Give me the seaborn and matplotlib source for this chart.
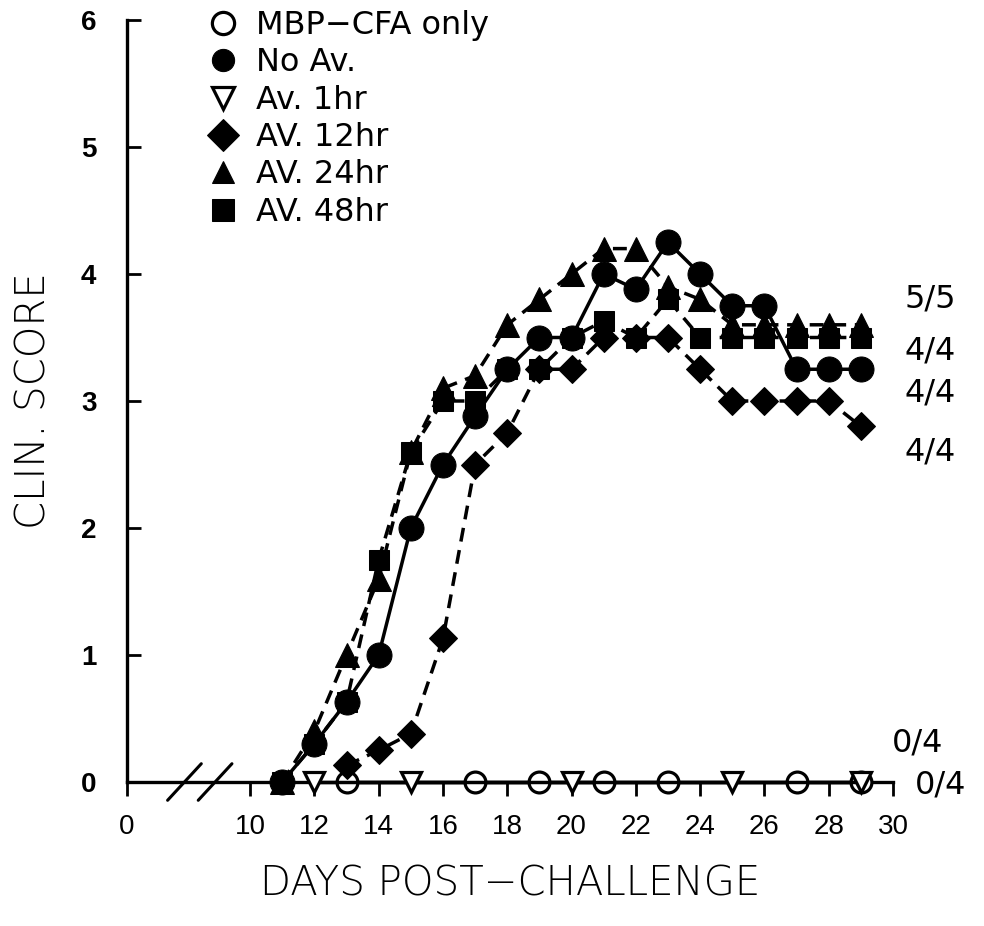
import numpy as np
import pandas as pd
import matplotlib
matplotlib.use("Agg")
import matplotlib.pyplot as plt
import seaborn as sns

sns.set_theme(style="white")
plt.rcParams['font.family'] = ['Liberation Sans', 'DejaVu Sans']
plt.rcParams['text.color'] = 'black'
plt.rcParams['axes.labelcolor'] = 'black'

# ---------------- data ----------------
days_mbp = [13, 17, 19, 21, 23, 27, 29]
score_mbp = [0, 0, 0, 0, 0, 0, 0]

days_noav = [11, 12, 13, 14, 15, 16, 17, 18, 19, 20, 21, 22, 23, 24, 25, 26, 27, 28, 29]
score_noav = [0, 0.3, 0.63, 1.0, 2.0, 2.5, 2.88, 3.25, 3.5, 3.5, 4.0, 3.88, 4.25, 4.0,
              3.75, 3.75, 3.25, 3.25, 3.25]

days_av1 = [12, 15, 20, 25, 29]
score_av1 = [0, 0, 0, 0, 0]

days_av12 = [13, 14, 15, 16, 17, 18, 19, 20, 21, 22, 23, 24, 25, 26, 27, 28, 29]
score_av12 = [0.13, 0.25, 0.38, 1.13, 2.5, 2.75, 3.25, 3.25, 3.5, 3.5, 3.5, 3.25,
              3.0, 3.0, 3.0, 3.0, 2.8]

days_av24 = [11, 12, 13, 14, 15, 16, 17, 18, 19, 20, 21, 22, 23, 24, 25, 26, 27, 28, 29]
score_av24 = [0, 0.4, 1.0, 1.6, 2.6, 3.1, 3.2, 3.6, 3.8, 4.0, 4.2, 4.2, 3.9, 3.8,
              3.6, 3.6, 3.6, 3.6, 3.6]

days_av48 = [11, 12, 13, 14, 15, 16, 17, 18, 19, 20, 21, 22, 23, 24, 25, 26, 27, 28, 29]
score_av48 = [0, 0.3, 0.63, 1.75, 2.6, 3.0, 3.0, 3.25, 3.25, 3.5, 3.63, 3.5, 3.8, 3.5,
              3.5, 3.5, 3.5, 3.5, 3.5]

labels = ["MBP\u2212CFA only", "No Av.", "Av. 1hr", "AV. 12hr", "AV. 24hr", "AV. 48hr"]

x_ticks = [10, 12, 14, 16, 18, 20, 22, 24, 26, 28, 30]
y_ticks = [0, 1, 2, 3, 4, 5, 6]

ratio_labels = ["5/5", "4/4", "4/4", "4/4", "0/4", "0/4"]
ratio_x = [30.37, 30.37, 30.37, 30.37, 29.97, 30.68]
ratio_y = [3.80, 3.39, 3.06, 2.60, 0.31, -0.02]

# broken-axis: position on the plot where "0" sits
zero_pos = 6.17

# ---------------- figure ----------------
fig = plt.figure(figsize=(9.84, 9.26), dpi=100)
ax = fig.add_axes([127 / 984, 1 - 782 / 926, (893 - 127) / 984, (782 - 20) / 926])

series = [
    (days_mbp, score_mbp, dict(marker='o', markersize=15, markerfacecolor='white',
                               markeredgewidth=2.3, linestyle='-')),
    (days_noav, score_noav, dict(marker='o', markersize=18, markerfacecolor='black',
                                 linestyle='-')),
    (days_av1, score_av1, dict(marker='v', markersize=15, markerfacecolor='white',
                               markeredgewidth=2.3, linestyle='-')),
    (days_av12, score_av12, dict(marker='D', markersize=14, markerfacecolor='black',
                                 linestyle=(0, (4, 2.5)))),
    (days_av24, score_av24, dict(marker='^', markersize=17, markerfacecolor='black',
                                 linestyle=(0, (4, 2.5)))),
    (days_av48, score_av48, dict(marker='s', markersize=15, markerfacecolor='black',
                                 linestyle=(0, (4, 2.5)))),
]

for (dx, dy, kw), lab in zip(series, labels):
    df = pd.DataFrame({"day": dx, "score": dy})
    sns.lineplot(data=df, x="day", y="score", ax=ax, color='black', linewidth=2.5,
                 markeredgecolor='black', clip_on=False, label=lab, zorder=3, **kw)

ax.set_xlim(zero_pos, 30)
ax.set_ylim(0, 6)

for s in ['top', 'right']:
    ax.spines[s].set_visible(False)
for s in ['left', 'bottom']:
    ax.spines[s].set_color('black')
    ax.spines[s].set_linewidth(2.4)

ax.set_xticks([zero_pos] + x_ticks)
ax.set_xticklabels(["0"] + [str(t) for t in x_ticks])
ax.set_yticks(y_ticks)
ax.set_yticklabels([str(t) for t in y_ticks], fontweight='bold')
ax.tick_params(axis='x', direction='out', length=10, width=2, colors='black',
               labelsize=20, pad=13, bottom=True)
ax.tick_params(axis='y', direction='in', length=10, width=2, colors='black',
               labelsize=20, pad=22, left=True)

ax.set_xlabel("DAYS POST\u2212CHALLENGE", fontsize=29, labelpad=18, color='black',
              family=['DejaVu Sans'], fontweight='light')
ax.set_ylabel("CLIN. SCORE", fontsize=29, labelpad=20, color='black',
              family=['DejaVu Sans'], fontweight='light')

# axis break marks
for xb in [0.075, 0.115]:
    ax.plot([xb - 0.022, xb + 0.022], [-0.024, 0.024], transform=ax.transAxes,
            color='black', linewidth=2.2, clip_on=False)

for t, xx, yy in zip(ratio_labels, ratio_x, ratio_y):
    ax.text(xx, yy, t, fontsize=23, ha='left', va='center', color='black',
            family=['DejaVu Sans'])

leg = ax.legend(loc='upper left', bbox_to_anchor=(0.108, 1.03), frameon=False,
                prop={'family': 'DejaVu Sans', 'size': 23}, handlelength=0.0,
                handletextpad=1.05, labelspacing=0.2, borderaxespad=0)
for txt in leg.get_texts():
    txt.set_color('black')
for h in leg.legend_handles:
    h.set_linestyle('None')
    h.set_markersize(16)

fig.savefig("out.png", dpi=100)
